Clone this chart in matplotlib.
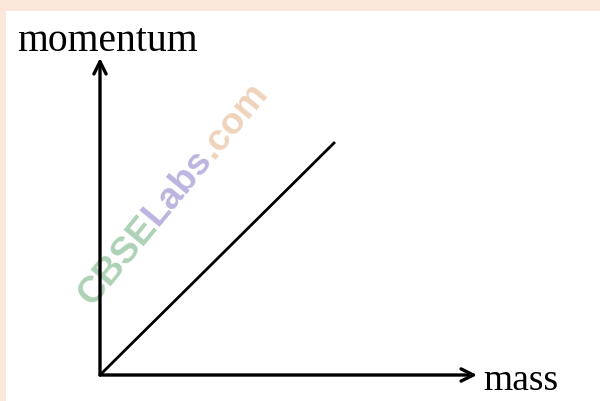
import math
import matplotlib
matplotlib.use("Agg")
import matplotlib.pyplot as plt
from matplotlib.patches import Rectangle

# data: momentum grows linearly with mass
mass = [0, 5]
momentum = [0, 5]

x_label = "mass"
y_label = "momentum"
watermark = [("CBSE", "#aed2b5"), ("Labs", "#bdb4e0"), (".com", "#efd3bb")]

W, H = 600, 401
fig = plt.figure(figsize=(W / 100, H / 100), dpi=100)
fig.patch.set_facecolor("#fce8da")
fig.patches.append(Rectangle((6 / W, 0), 1, 1 - 11 / H, transform=fig.transFigure,
                             facecolor="white", edgecolor="none", zorder=-2))


def px(x, y):
    # pixel position (from top-left) -> figure fraction
    return x / W, 1 - y / H


# axes placed so the origin sits at pixel (100, 375)
ox, oy = 100, 375
ax = fig.add_axes([ox / W, 1 - oy / H, (477 - ox) / W, (oy - 58) / H])
ax.set_facecolor("none")
ax.set_zorder(1)
ax.set_xlim(0, 5 * 377 / 235)
ax.set_ylim(0, 5 * 317 / 233)
for s in ax.spines.values():
    s.set_visible(False)
ax.set_xticks([])
ax.set_yticks([])

ax.plot(mass, momentum, color="black", lw=2.0, solid_capstyle="butt")

arrow = dict(arrowstyle="->", color="black", lw=2.4, mutation_scale=22,
             shrinkA=0, shrinkB=0)
ax.annotate("", xy=(1, 0), xytext=(0, 0), xycoords="axes fraction",
            textcoords="axes fraction", arrowprops=arrow, annotation_clip=False)
ax.annotate("", xy=(0, 1), xytext=(0, 0), xycoords="axes fraction",
            textcoords="axes fraction", arrowprops=arrow, annotation_clip=False)

serif = ["Liberation Serif", "DejaVu Serif"]
fig.text(*px(17, 51), y_label, family=serif, fontsize=28.5, ha="left", va="baseline")
fig.text(*px(483, 390), x_label, family=serif, fontsize=27, ha="left", va="baseline")

# watermark, drawn piece by piece along a slanted baseline
ang = 50.5
fs = 26.8
wm_font = dict(family=["Liberation Sans", "DejaVu Sans"], fontweight="bold")
fig.canvas.draw()
r = fig.canvas.get_renderer()
x0, y0 = 92, 307
for s, c in watermark:
    fig.text(*px(x0, y0), s, fontsize=fs, color=c, rotation=ang,
             rotation_mode="anchor", ha="left", va="baseline", zorder=0, **wm_font)
    probe = fig.text(0, 0, s, fontsize=fs, **wm_font)
    w = probe.get_window_extent(r).width
    probe.remove()
    x0 += w * math.cos(math.radians(ang))
    y0 -= w * math.sin(math.radians(ang))

fig.savefig("out.png", dpi=100, facecolor=fig.get_facecolor())
